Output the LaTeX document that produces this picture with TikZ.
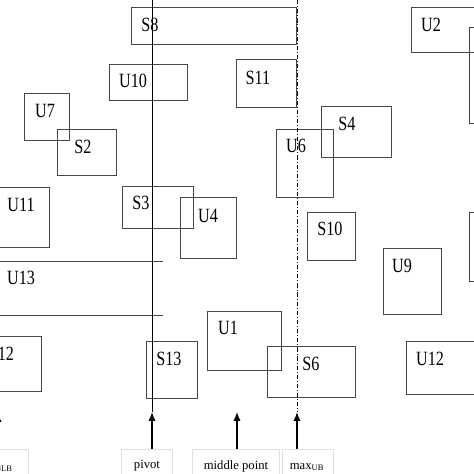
\documentclass[tikz,border=0pt]{standalone}
\usepackage{fontspec}
\setmainfont{Liberation Serif}
\usepackage{tikz}
\usetikzlibrary{arrows.meta,positioning,fit}

\begin{document}
\begin{tikzpicture}[
  x=0.025cm, y=-0.025cm,
  blk/.style={draw=black!72, line width=0.7pt, inner sep=0pt},
  lbl/.style={font=\fontsize{11.5}{12}\selectfont, inner sep=0pt, yscale=1.25, transform shape},
  tag/.style={font=\fontsize{9}{10}\selectfont, inner sep=0pt},
  frm/.style={draw=black!12, line width=0.5pt, inner sep=0pt},
  arr/.style={-{Latex[length=2.2mm,width=1.8mm]}, line width=1pt},
  dashdot/.style={line width=0.6pt, dash pattern=on 3pt off 1.4pt on 0.7pt off 1.4pt}]
\path[use as bounding box, fill=white] (0,0) rectangle (474,474);
% blocks
\node[blk, fit={(131,7)(296,44)}] (S8) {};
\node[blk, fit={(109,64)(187,100)}] (U10) {};
\node[blk, fit={(24,93)(69,140)}] (U7) {};
\node[blk, fit={(57,129)(116,175)}] (S2) {};
\node[blk, fit={(-10,187)(49,247)}] (U11) {};
\node[blk, fit={(122,186)(193,228)}] (S3) {};
\node[blk, fit={(180,197)(236,258)}] (U4) {};
\node[blk, fit={(236,59)(296,107)}] (S11) {};
\node[blk, fit={(411,7)(490,52)}] (U2) {};
\node[blk, fit={(469,27)(500,123)}] (Ua) {};
\node[blk, fit={(321,106)(391,157)}] (S4) {};
\node[blk, fit={(276,129)(333,197)}] (U6) {};
\node[blk, fit={(307,212)(355,260)}] (S10) {};
\node[blk, fit={(469,212)(500,281)}] (Ub) {};
\node[blk, fit={(383,248)(441,314)}] (U9) {};
\node[blk, fit={(-30,336)(41,391)}] (U12a) {};
\node[blk, fit={(146,341)(197,398)}] (S13) {};
\node[blk, fit={(207,311)(281,370)}] (U1) {};
\node[blk, fit={(267,346)(355,397)}] (S6) {};
\node[blk, fit={(406,341)(490,394)}] (U12b) {};
\draw[blk] (-10,261) -- (163,261) (-10,315) -- (163,315);
% block names
\node[lbl] (S8t) at (150,25) {S8};
\node[lbl] (U10t) at (133,81) {U10};
\node[lbl] (U7t) at (45,111) {U7};
\node[lbl] (S2t) at (83,147) {S2};
\node[lbl] (U11t) at (21,205) {U11};
\node[lbl] (S3t) at (141,203) {S3};
\node[lbl] (U4t) at (208,216) {U4};
\node[lbl] (S11t) at (258,78) {S11};
\node[lbl] (U2t) at (431,25) {U2};
\node[lbl] (S4t) at (347,124) {S4};
\node[lbl] (U6t) at (296,146) {U6};
\node[lbl] (S10t) at (330,229) {S10};
\node[lbl] (U9t) at (402,266) {U9};
\node[lbl] (U13t) at (21,278) {U13};
\node[lbl] (U12at) at (0,354) {U12};
\node[lbl] (S13t) at (169,359) {S13};
\node[lbl] (U1t) at (228,328) {U1};
\node[lbl] (S6t) at (311,364) {S6};
\node[lbl] (U12bt) at (430,359) {U12};
% markers
\node[frm, fit={(-23,449)(28,490)}] (minbox) {};
\node[frm, fit={(121,449)(172,490)}] (pivotbox) {};
\node[frm, fit={(192,449)(279,490)}] (midbox) {};
\node[frm, fit={(282,449)(333,490)}] (maxbox) {};
\node[tag] (min) at (-3,467) {min\textsubscript{LB}};
\node[tag] (pivot) at (147,466) {pivot};
\node[tag] (mid) at (236,466) {middle point};
\node[tag] (max) at (307,467) {max\textsubscript{UB}};
\coordinate (mintip) at (-2,413);
\coordinate (pivtip) at (152,412);
\coordinate (midtip) at (237,412);
\coordinate (maxtip) at (297,412);
\draw[line width=0.7pt] (152,0) -- (pivtip);
\draw[dashdot] (297,0) -- (maxtip);
\draw[arr] (minbox.north -| mintip) -- (mintip);
\draw[arr] (pivotbox.north -| pivtip) -- (pivtip);
\draw[arr] (midbox.north -| midtip) -- (midtip);
\draw[arr] (maxbox.north -| maxtip) -- (maxtip);
\end{tikzpicture}
\end{document}
